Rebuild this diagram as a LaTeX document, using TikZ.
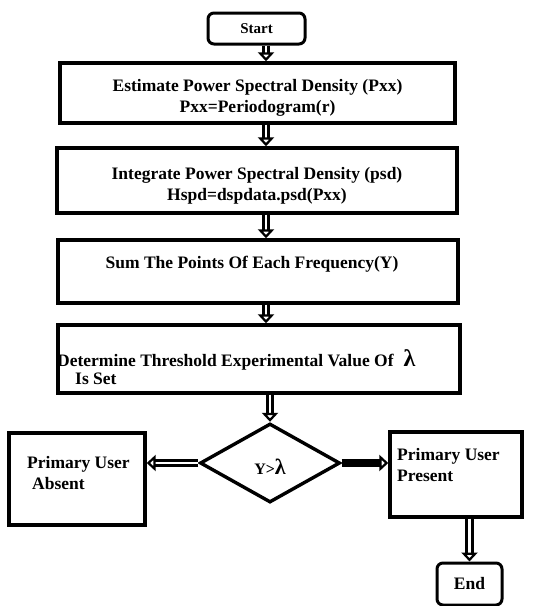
\documentclass[tikz,border=0pt]{standalone}
\usepackage{fontspec}
\setmainfont{Liberation Serif}
\usetikzlibrary{arrows.meta,shapes.geometric,calc}

\tikzset{
  frame/.style={draw, line width=3.4pt, fill=white, inner sep=0pt},
  term/.style={frame, line width=3pt, rounded corners=6pt},
  txt/.style={inner sep=0pt, font=\bfseries\fontsize{17.5}{21}\selectfont},
  blk/.style={line width=3pt, double=white, double distance=2.6pt,
    -{Triangle[open, length=9pt, width=16pt, line width=2.6pt]}},
}

\begin{document}
\begin{tikzpicture}[x=1pt, y=-1pt]
\useasboundingbox (0,0) rectangle (545,606);

% boxes of the main column
\node[term, minimum width=97pt, minimum height=31pt, txt, font=\bfseries\fontsize{15}{18}\selectfont] (start) at (256.5,28.5) {Start};
\node[frame, minimum width=395pt, minimum height=60pt] (est) at (257.5,93) {};
\node[txt, align=center] (esttext) at (257.5,98)
  {Estimate Power Spectral Density (Pxx)\\Pxx=Periodogram(r)};
\node[frame, minimum width=400pt, minimum height=65pt] (integ) at (257,180.5) {};
\node[txt, align=center] (integtext) at (257,186)
  {Integrate Power Spectral Density (psd)\\Hspd=dspdata.psd(Pxx)};
\node[frame, minimum width=400pt, minimum height=63pt] (sum) at (258,271.5) {};
\node[txt] (sumtext) at (252,264) {Sum The Points Of Each Frequency(Y)};
\node[frame, minimum width=402pt, minimum height=68pt] (thr) at (259,359) {};
\node[txt, anchor=base west] (thrtext) at (57,366) {Determine Threshold Experimental Value Of\hspace{10pt}\fontsize{24}{24}\selectfont λ};
\node[txt, anchor=base west] (isset) at (75,384) {Is Set};

% decision and outcomes
\node[draw, line width=3.4pt, fill=white, diamond, inner sep=0pt,
      minimum width=140pt, minimum height=79pt] (dec) at (270,463) {};
\node[txt] (dectext) at (270,467) {\fontsize{16}{16}\selectfont Y>\fontsize{22}{22}\selectfont λ};
\node[frame, minimum width=136pt, minimum height=92pt] (absent) at (77,479) {};
\node[txt, align=left, anchor=west] (absenttext) at (27,473) {Primary User\\\hspace{5pt}Absent};
\node[frame, minimum width=132pt, minimum height=85pt] (present) at (456,474.5) {};
\node[txt, align=left, anchor=west] (presenttext) at (397,465) {Primary User\\Present};
\node[term, minimum width=65pt, minimum height=42pt, txt] (endbox) at (469.5,584) {End};

% connectors
\coordinate (axis) at (266,0);
\draw[blk] (start.south -| axis) -- (est.north -| axis);
\draw[blk] (est.south -| axis) -- (integ.north -| axis);
\draw[blk] (integ.south -| axis) -- (sum.north -| axis);
\draw[blk] (sum.south -| axis) -- (thr.north -| axis);
\draw[blk] (thr.south -| dec.north) -- (dec.north);
\draw[blk] (dec.west) -- (dec.west -| absent.east);
\draw[blk, double=black] (dec.east) -- (dec.east -| present.west);
\draw[blk] (present.south -| endbox.north) -- (endbox.north);
\end{tikzpicture}
\end{document}
